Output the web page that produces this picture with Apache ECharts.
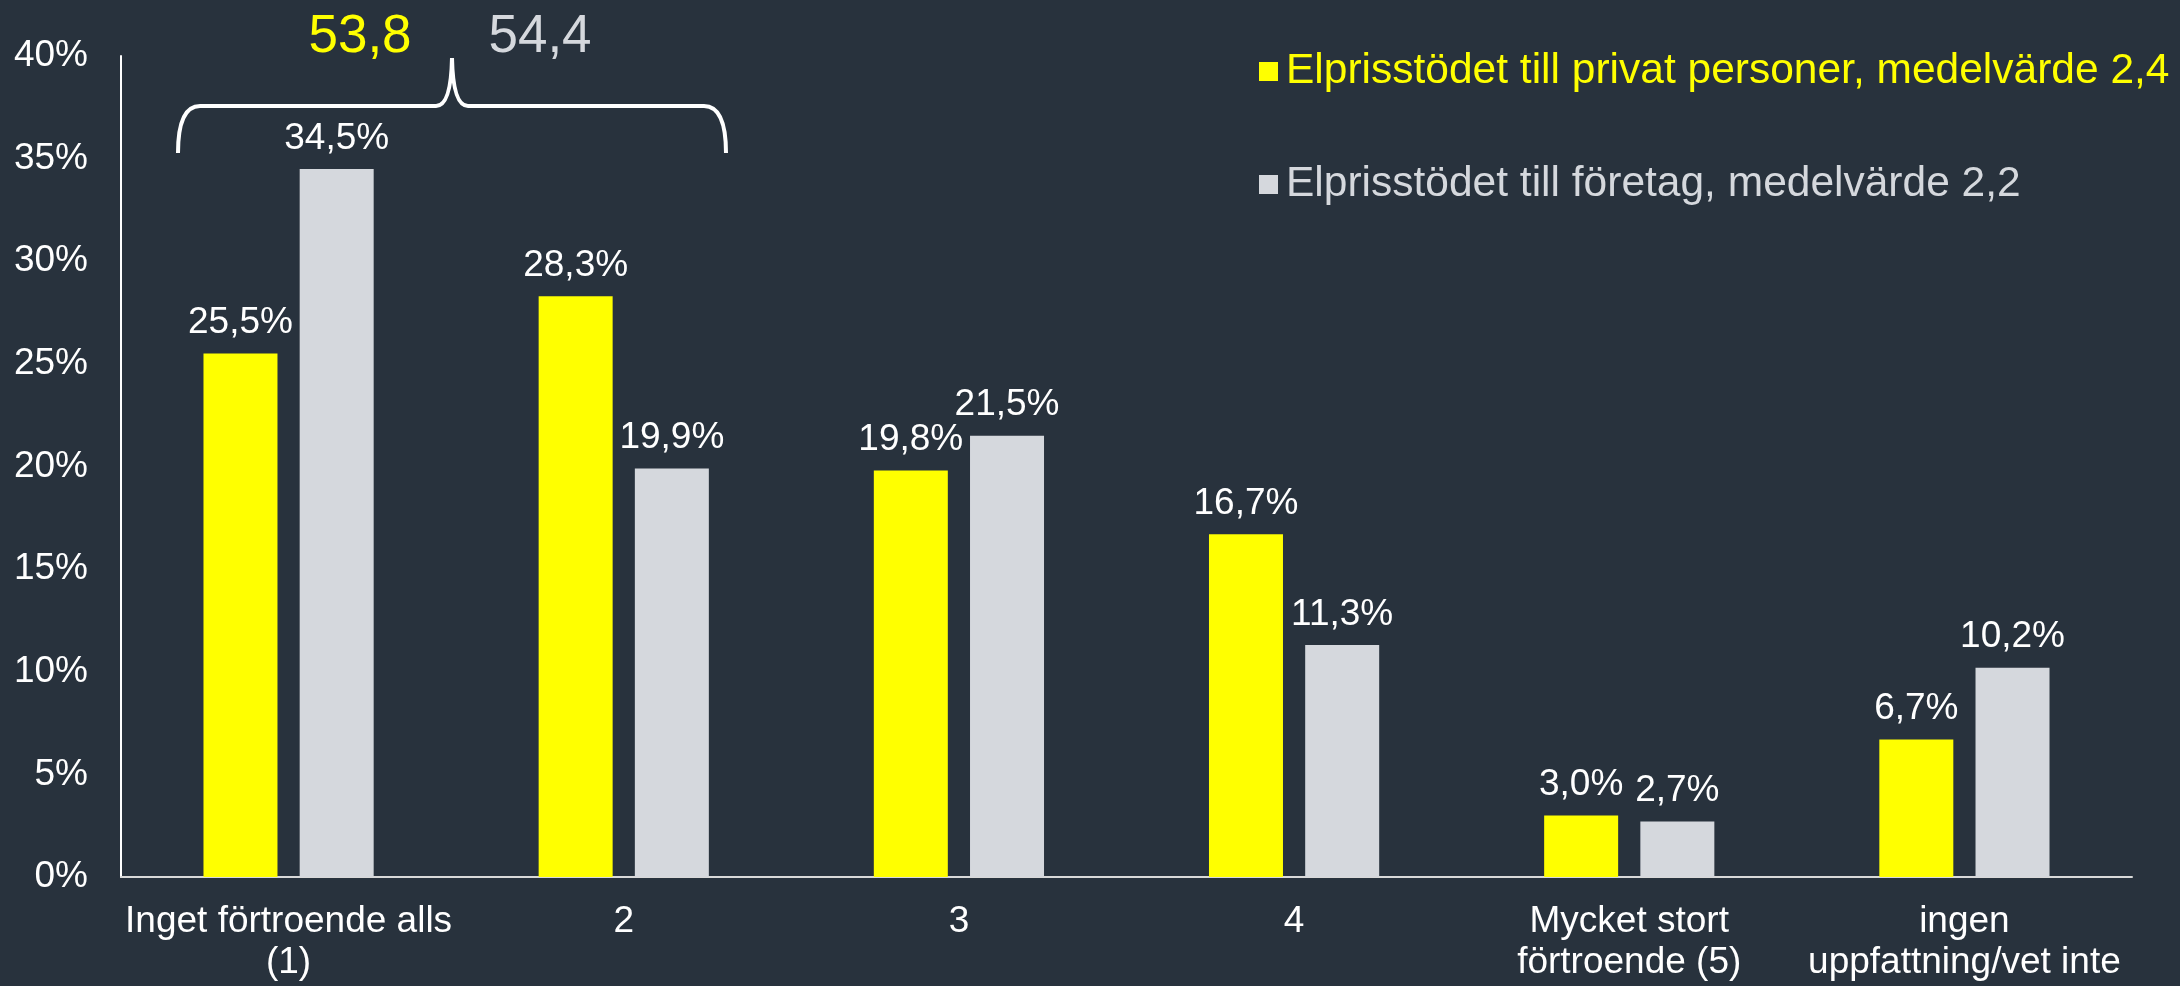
<!DOCTYPE html>
<html>
<head>
<meta charset="utf-8">
<script src="https://cdn.jsdelivr.net/npm/echarts@6/dist/echarts.min.js"></script>
<style>
  html, body { margin: 0; padding: 0; background: #28323d; }
  #chart { width: 2180px; height: 986px; }
</style>
</head>
<body>
<div id="chart"></div>
<script>
// kategorier och andelar (%)
var categories = ['Inget förtroende alls\n(1)', '2', '3', '4', 'Mycket stort\nförtroende (5)', 'ingen\nuppfattning/vet inte']
var privatValues = [25.5, 28.3, 19.8, 16.7, 3.0, 6.7]
var foretagValues = [34.5, 19.9, 21.5, 11.3, 2.7, 10.2]
var seriesNames = ['Elprisstödet till privat personer, medelvärde 2,4', 'Elprisstödet till företag, medelvärde 2,2']
var yTicks = [0, 5, 10, 15, 20, 25, 30, 35, 40]
var sumLabels = ['53,8', '54,4']

var FONT = '"Liberation Sans", Arial, sans-serif'
var YELLOW = '#ffff00'
var GREY = '#d5d8dd'

function pct (v) {
  return v.toFixed(1).replace('.', ',') + '%'
}

var barLabel = {
  show: true,
  position: 'top',
  distance: 12,
  color: '#ffffff',
  fontSize: 37,
  fontFamily: FONT,
  formatter: function (p) { return pct(p.value) }
}

// klammern ovanför de två första staplarna
var braceStyle = { stroke: '#ffffff', lineWidth: 4, fill: null }
function curve (x1, y1, cx, cy, x2, y2) {
  return { type: 'bezierCurve', shape: { x1: x1, y1: y1, cpx1: cx, cpy1: cy, x2: x2, y2: y2 }, style: braceStyle }
}
function seg (x1, y1, x2, y2) {
  return { type: 'line', shape: { x1: x1, y1: y1, x2: x2, y2: y2 }, style: braceStyle }
}

var chart = echarts.init(document.getElementById('chart'))
chart.setOption({
  backgroundColor: '#28323d',
  animation: false,
  grid: { left: 121, right: 48, top: 56, bottom: 109 },
  legend: {
    orient: 'vertical',
    left: 1254,
    top: 45,
    itemWidth: 19,
    itemHeight: 19,
    itemGap: 70,
    icon: 'rect',
    textStyle: { fontSize: 42.5, fontFamily: FONT, padding: [0, 0, 0, 3] },
    data: [
      { name: seriesNames[0], textStyle: { color: YELLOW } },
      { name: seriesNames[1], textStyle: { color: GREY } }
    ]
  },
  xAxis: {
    type: 'category',
    data: categories,
    axisLine: { lineStyle: { color: '#d9d9d9', width: 2 } },
    axisTick: { show: false },
    axisLabel: {
      color: '#ffffff',
      fontSize: 37,
      lineHeight: 41,
      fontFamily: FONT,
      margin: 24,
      interval: 0
    }
  },
  yAxis: {
    type: 'value',
    min: yTicks[0],
    max: yTicks[yTicks.length - 1],
    interval: yTicks[1] - yTicks[0],
    splitLine: { show: false },
    axisTick: { show: false },
    axisLine: { show: true, lineStyle: { color: '#ffffff', width: 2 } },
    axisLabel: {
      color: '#ffffff',
      fontSize: 37,
      fontFamily: FONT,
      margin: 33,
      formatter: function (v) { return v + '%' }
    }
  },
  series: [
    {
      name: seriesNames[0],
      type: 'bar',
      data: privatValues,
      itemStyle: { color: YELLOW },
      barWidth: 74,
      barGap: '30%',
      label: barLabel
    },
    {
      name: seriesNames[1],
      type: 'bar',
      data: foretagValues,
      itemStyle: { color: GREY },
      barWidth: 74,
      label: barLabel
    }
  ],
  graphic: [
    curve(178, 153, 178, 106, 200, 106),
    seg(200, 106, 436, 106),
    curve(436, 106, 451, 106, 452, 58),
    curve(452, 58, 453, 106, 468, 106),
    seg(468, 106, 704, 106),
    curve(704, 106, 726, 106, 726, 153),
    {
      type: 'text',
      x: 360, y: 37,
      style: { text: sumLabels[0], fill: YELLOW, font: '53px ' + FONT, align: 'center', verticalAlign: 'middle' }
    },
    {
      type: 'text',
      x: 540, y: 37,
      style: { text: sumLabels[1], fill: GREY, font: '53px ' + FONT, align: 'center', verticalAlign: 'middle' }
    }
  ]
})
</script>
</body>
</html>
